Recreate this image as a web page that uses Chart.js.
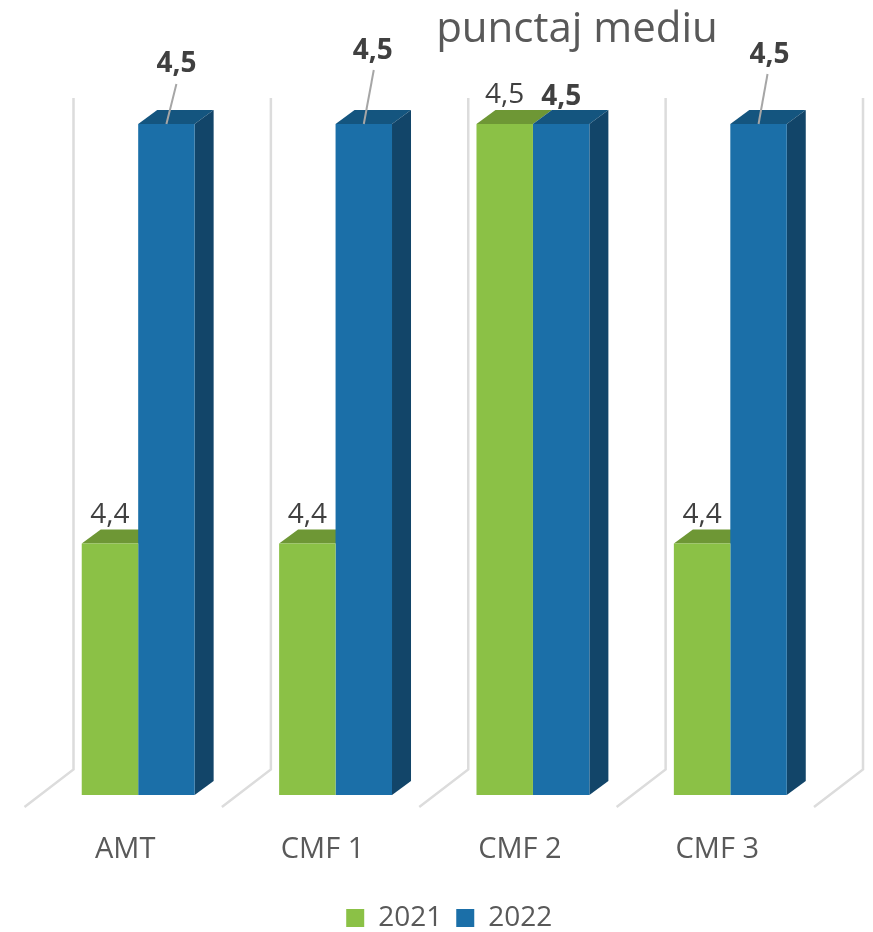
<!DOCTYPE html>
<html>
<head>
<meta charset="utf-8">
<title>punctaj mediu</title>
<script src="https://cdn.jsdelivr.net/npm/chart.js@4"></script>
<style>
  html, body { margin: 0; padding: 0; background: #fff; }
  #box { width: 873px; height: 932px; }
</style>
</head>
<body>
<div id="box"><canvas id="chart"></canvas></div>
<script>
const categories = ["AMT", "CMF 1", "CMF 2", "CMF 3"];
const values2021 = [4.4, 4.4, 4.5, 4.4];
const values2022 = [4.5, 4.5, 4.5, 4.5];

const GREEN = "#8bc146", GREEN_TOP = "#6e9735";
const BLUE = "#1b6fa8", BLUE_TOP = "#14557f", BLUE_SIDE = "#124569";
const DEPTH_X = 19, DEPTH_Y = 14;

// where the labels of the 2022 bars sit, relative to the bar top centre
const blueLabelOffset = [[10, -60], [9, -73], [0, -27], [11, -69]];
const leaderEnd = [[10, -40], [10, -54], null, [9, -50]];

function poly(ctx, pts, color) {
  ctx.fillStyle = color;
  ctx.beginPath();
  pts.forEach((p, i) => i ? ctx.lineTo(p[0], p[1]) : ctx.moveTo(p[0], p[1]));
  ctx.closePath();
  ctx.fill();
}

const fake3d = {
  id: "fake3d",
  afterLayout(chart) {
    // title and legend are not centred on the canvas in the original
    const t = chart.titleBlock;
    t.left = 377; t.right = 777;
    const l = chart.legend;
    l.left += 15; l.right += 15;
  },
  beforeDatasetsDraw(chart) {
    const ctx = chart.ctx, x = chart.scales.x, y = chart.scales.y;
    const band = x.getPixelForValue(1) - x.getPixelForValue(0);
    ctx.save();
    ctx.strokeStyle = "#dcdcdc";
    ctx.lineWidth = 2.5;
    for (let i = 0; i <= categories.length; i++) {
      const edge = x.left + i * band;
      ctx.beginPath();
      ctx.moveTo(edge + 34, y.top - 26);
      ctx.lineTo(edge + 34, y.bottom - 25.5);
      ctx.lineTo(edge - 15, y.bottom + 12);
      ctx.stroke();
    }
    const m0 = chart.getDatasetMeta(0), m1 = chart.getDatasetMeta(1);
    categories.forEach((c, i) => {
      const g = m0.data[i], b = m1.data[i];
      const gl = g.x - g.width / 2, gr = g.x + g.width / 2;
      const bl = b.x - b.width / 2, br = b.x + b.width / 2;
      poly(ctx, [[gl, g.y], [gl + DEPTH_X, g.y - DEPTH_Y], [gr + DEPTH_X, g.y - DEPTH_Y], [gr, g.y]], GREEN_TOP);
      poly(ctx, [[bl, b.y], [bl + DEPTH_X, b.y - DEPTH_Y], [br + DEPTH_X, b.y - DEPTH_Y], [br, b.y]], BLUE_TOP);
      poly(ctx, [[br, b.y], [br + DEPTH_X, b.y - DEPTH_Y], [br + DEPTH_X, y.bottom - DEPTH_Y], [br, y.bottom]], BLUE_SIDE);
    });
    ctx.restore();
  },
  afterDatasetsDraw(chart) {
    const ctx = chart.ctx;
    const m0 = chart.getDatasetMeta(0), m1 = chart.getDatasetMeta(1);
    ctx.save();
    ctx.textAlign = "center";
    ctx.textBaseline = "middle";
    categories.forEach((c, i) => {
      const g = m0.data[i], b = m1.data[i];
      ctx.fillStyle = "#404040";
      ctx.font = '28px "Open Sans"';
      ctx.fillText(String(values2021[i]).replace(".", ","), g.x, g.y - 28.5);
      ctx.font = 'bold 28px "Open Sans"';
      const off = blueLabelOffset[i];
      ctx.fillText(String(values2022[i]).replace(".", ","), b.x + off[0], b.y + off[1]);
      const end = leaderEnd[i];
      if (end) {
        ctx.strokeStyle = "#a6a6a6";
        ctx.lineWidth = 2;
        ctx.beginPath();
        ctx.moveTo(b.x, b.y);
        ctx.lineTo(b.x + end[0], b.y + end[1]);
        ctx.stroke();
      }
    });
    ctx.restore();
  }
};

const ctx = document.getElementById("chart").getContext("2d");

new Chart(ctx, {
  type: "bar",
  data: {
    labels: categories,
    datasets: [
      { label: "2021", data: values2021, backgroundColor: GREEN },
      { label: "2022", data: values2022, backgroundColor: BLUE }
    ]
  },
  options: {
    responsive: true,
    maintainAspectRatio: false,
    animation: false,
    categoryPercentage: 0.572,
    barPercentage: 1,
    layout: { padding: { left: 39.5, right: 44, top: 5, bottom: -10 } },
    scales: {
      x: {
        grid: { display: false },
        border: { display: false },
        afterFit(axis) { axis.height = 95; },
        ticks: {
          color: "#595959",
          font: { family: "Open Sans", size: 29 },
          padding: 29,
          labelOffset: -13,
          maxRotation: 0,
          autoSkip: false
        }
      },
      y: { display: false, min: 4.34, max: 4.5 }
    },
    plugins: {
      title: {
        display: true,
        text: "punctaj mediu",
        color: "#595959",
        font: { family: "Open Sans", size: 42, weight: "normal" },
        padding: { top: 0, bottom: 68.6 }
      },
      legend: {
        position: "bottom",
        labels: {
          color: "#595959",
          font: { family: "Open Sans", size: 28 },
          boxWidth: 18,
          boxHeight: 18,
          padding: 14
        }
      },
      tooltip: { enabled: false }
    }
  },
  plugins: [fake3d]
});
</script>
</body>
</html>
